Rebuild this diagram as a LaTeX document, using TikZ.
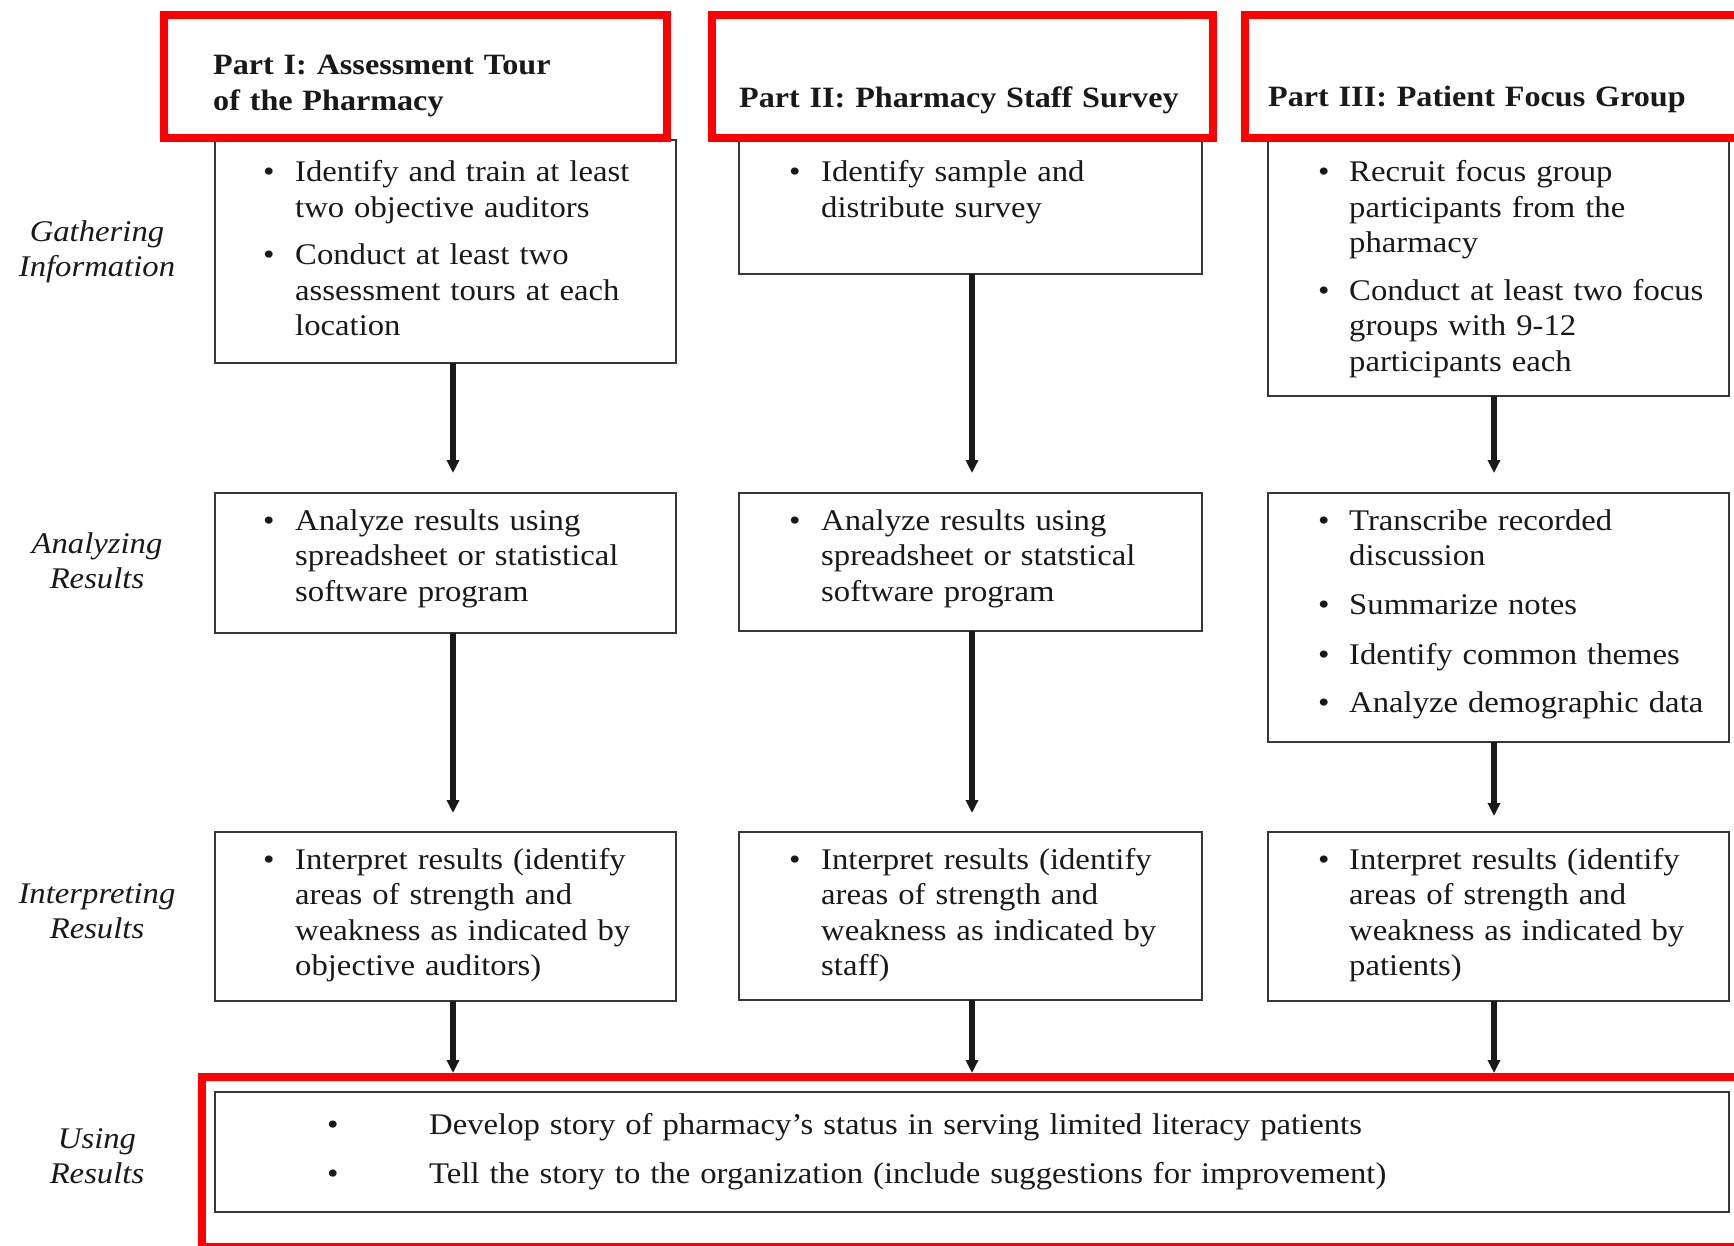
\documentclass[tikz,border=0pt]{standalone}
\usepackage{fontspec}
\setmainfont{Liberation Serif}[FakeStretch=1.09]
\usetikzlibrary{arrows.meta}
\definecolor{redline}{RGB}{255,0,0}
\definecolor{boxline}{RGB}{55,55,55}
\definecolor{ink}{RGB}{25,25,25}
\newcommand\bodyfont{\fontsize{30}{35.5}\selectfont}
\newcommand\headfont{\fontsize{29.5}{36}\selectfont\bfseries}
\newcommand\lblfont{\fontsize{30}{35.5}\selectfont\itshape}
\begin{document}
\begin{tikzpicture}[x=1pt,y=-1pt,
  box/.style={draw=boxline, line width=2pt, fill=white, inner sep=0pt, outer sep=0pt, anchor=north west},
  redbox/.style={draw=redline, line width=8pt, inner sep=0pt, outer sep=0pt, anchor=north west},
  item/.style={anchor=base west, inner sep=0pt, align=left, text width=380pt, font=\bodyfont, text=ink},
  wideitem/.style={item, text width=1200pt},
  bul/.style={anchor=base west, inner sep=0pt, font=\bodyfont, text=ink},
  head/.style={anchor=base west, inner sep=0pt, align=left, text width=470pt, font=\headfont, text=ink},
  lbl/.style={anchor=base, inner sep=0pt, align=center, text width=190pt, font=\lblfont, text=ink},
  arr/.style={line width=6pt, draw=ink, -{Triangle[length=13pt,width=12pt]}}
]
\useasboundingbox (0,0) rectangle (1734,1245);
\clip (0,0) rectangle (1734,1245);

% black boxes
\node[box, minimum width=461pt, minimum height=223pt] (g1) at (215,140) {};
\node[box, minimum width=463pt, minimum height=134pt] (g2) at (739,140) {};
\node[box, minimum width=461pt, minimum height=256pt] (g3) at (1268,140) {};
\node[box, minimum width=461pt, minimum height=140pt] (a1) at (215,493) {};
\node[box, minimum width=463pt, minimum height=138pt] (a2) at (739,493) {};
\node[box, minimum width=461pt, minimum height=249pt] (a3) at (1268,493) {};
\node[box, minimum width=461pt, minimum height=169pt] (i1) at (215,832) {};
\node[box, minimum width=463pt, minimum height=168pt] (i2) at (739,832) {};
\node[box, minimum width=461pt, minimum height=169pt] (i3) at (1268,832) {};
\node[box, minimum width=1514pt, minimum height=120pt] (u) at (215,1092) {};

% red boxes (nodes for connectors)
\node[redbox, minimum width=503pt, minimum height=122.5pt] (r1) at (164,15) {};
\node[redbox, minimum width=500.5pt, minimum height=122.5pt] (r2) at (712,15) {};
\node[redbox, minimum width=515pt, minimum height=122.5pt] (r3) at (1245,15) {};

% arrow start points
\coordinate (s1) at ([xshift=7.5pt]g1.south);
\coordinate (s2) at ([xshift=1.5pt]g2.south);
\coordinate (s3) at ([xshift=-4.5pt]g3.south);
\coordinate (t1) at ([xshift=7.5pt]a1.south);
\coordinate (t2) at ([xshift=1.5pt]a2.south);
\coordinate (t3) at ([xshift=-4.5pt]a3.south);
\coordinate (v1) at ([xshift=7.5pt]i1.south);
\coordinate (v2) at ([xshift=1.5pt]i2.south);
\coordinate (v3) at ([xshift=-4.5pt]i3.south);

\draw[arr, shorten >=20pt] (s1) -- (s1 |- a1.north);
\draw[arr, shorten >=20pt] (s2) -- (s2 |- a2.north);
\draw[arr, shorten >=20pt] (s3) -- (s3 |- a3.north);
\draw[arr, shorten >=19pt] (t1) -- (t1 |- i1.north);
\draw[arr, shorten >=19pt] (t2) -- (t2 |- i2.north);
\draw[arr, shorten >=16pt] (t3) -- (t3 |- i3.north);

\node[redbox, minimum width=1558pt, minimum height=170pt] (r4) at (202,1077) {};
\draw[arr, shorten >=4pt] (v1) -- (v1 |- r4.north);
\draw[arr, shorten >=4pt] (v2) -- (v2 |- r4.north);
\draw[arr, shorten >=4pt] (v3) -- (v3 |- r4.north);

% headers
\node[head] (h1) at (213,74) {Part I: Assessment Tour\\of the Pharmacy};
\node[head] (h2) at (739,107) {Part II: Pharmacy Staff Survey};
\node[head] (h3) at (1268,106) {Part III: Patient Focus Group};

% left labels
\node[lbl] (lg) at (97,241) {Gathering\\Information};
\node[lbl] (la) at (97,553) {Analyzing\\Results};
\node[lbl] (li) at (97,903) {Interpreting\\Results};
\node[lbl] (lu) at (97,1148) {Using\\Results};

% row 1
\node[bul] (b11) at (263,181.5) {\textbullet};
\node[item] (p11) at (295,181.5) {Identify and train at least\\two objective auditors};
\node[bul] (b12) at (263,264.5) {\textbullet};
\node[item] (p12) at (295,264.5) {Conduct at least two\\assessment tours at each\\location};
\node[bul] (b21) at (789,181.5) {\textbullet};
\node[item] (p21) at (821,181.5) {Identify sample and\\distribute survey};
\node[bul] (b31) at (1318,181.5) {\textbullet};
\node[item] (p31) at (1349,181.5) {Recruit focus group\\participants from the\\pharmacy};
\node[bul] (b32) at (1318,300) {\textbullet};
\node[item] (p32) at (1349,300) {Conduct at least two focus\\groups with 9-12\\participants each};

% row 2
\node[bul] (c11) at (263,530) {\textbullet};
\node[item] (q11) at (295,530) {Analyze results using\\spreadsheet or statistical\\software program};
\node[bul] (c21) at (789,530) {\textbullet};
\node[item] (q21) at (821,530) {Analyze results using\\spreadsheet or statstical\\software program};
\node[bul] (c31) at (1318,530) {\textbullet};
\node[item] (q31) at (1349,530) {Transcribe recorded\\discussion};
\node[bul] (c32) at (1318,614) {\textbullet};
\node[item] (q32) at (1349,614) {Summarize notes};
\node[bul] (c33) at (1318,664) {\textbullet};
\node[item] (q33) at (1349,664) {Identify common themes};
\node[bul] (c34) at (1318,712) {\textbullet};
\node[item] (q34) at (1349,712) {Analyze demographic data};

% row 3
\node[bul] (d11) at (263,869) {\textbullet};
\node[item] (e11) at (295,869) {Interpret results (identify\\areas of strength and\\weakness as indicated by\\objective auditors)};
\node[bul] (d21) at (789,869) {\textbullet};
\node[item] (e21) at (821,869) {Interpret results (identify\\areas of strength and\\weakness as indicated by\\staff)};
\node[bul] (d31) at (1318,869) {\textbullet};
\node[item] (e31) at (1349,869) {Interpret results (identify\\areas of strength and\\weakness as indicated by\\patients)};

% bottom
\node[bul] (f1) at (327,1134) {\textbullet};
\node[wideitem] (g1t) at (429,1134) {Develop story of pharmacy’s status in serving limited literacy patients};
\node[bul] (f2) at (327,1183) {\textbullet};
\node[wideitem] (g2t) at (429,1183) {Tell the story to the organization (include suggestions for improvement)};
\end{tikzpicture}
\end{document}
